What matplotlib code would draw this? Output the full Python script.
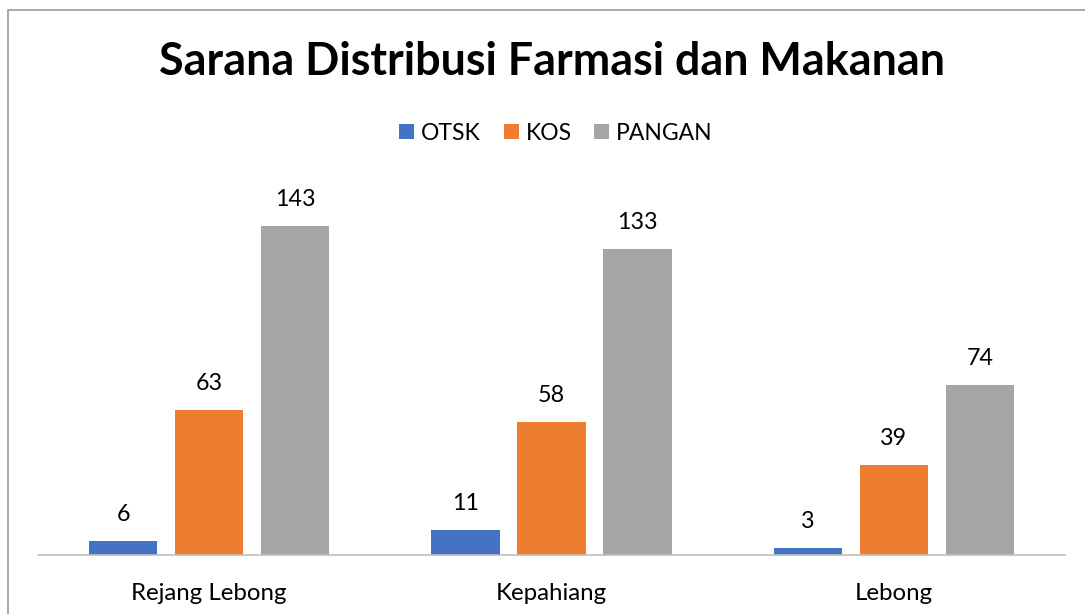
import numpy as np
import matplotlib.pyplot as plt
from matplotlib.patches import Rectangle

plt.rcParams['font.family'] = ['Lato', 'DejaVu Sans']

categories = ['Rejang Lebong', 'Kepahiang', 'Lebong']
series = ['OTSK', 'KOS', 'PANGAN']
otsk = [6, 11, 3]
kos = [63, 58, 39]
pangan = [143, 133, 74]
colors = ['#4472C4', '#ED7D31', '#A5A5A5']

W, H = 1085, 614
fig = plt.figure(figsize=(W / 100, H / 100), dpi=100)

# outer chart border (cropped on right/bottom in the original)
fig.add_artist(Rectangle((8 / W, -0.01), 1.1, 1 - 10 / H + 0.01, transform=fig.transFigure,
                         fill=False, edgecolor='#9a9a9a', linewidth=1.2))

ax = fig.add_axes([38 / W, 59 / H, 1027 / W, 368 / H])

x = np.arange(len(categories))
width = 0.2
gap = 0.051
offsets = [-(width + gap), 0, width + gap]

for vals, name, col, off in zip([otsk, kos, pangan], series, colors, offsets):
    bars = ax.bar(x + off, vals, width, color=col, label=name, zorder=2)
    for b, v in zip(bars, vals):
        ax.text(b.get_x() + b.get_width() / 2, v + 7, str(v), ha='center', va='bottom',
                fontsize=16.8, color='#000000')

ax.set_xlim(-0.5, 2.5)
ax.set_ylim(0, 160)
ax.set_yticks([])
ax.set_xticks(x)
ax.set_xticklabels(categories, fontsize=17.3)
ax.tick_params(axis='x', length=0, pad=20)
for s in ['top', 'right', 'left']:
    ax.spines[s].set_visible(False)
ax.spines['bottom'].set_color('#bfbfbf')
ax.spines['bottom'].set_linewidth(1.2)

fig.text(552 / W, 1 - 62 / H, 'Sarana Distribusi Farmasi dan Makanan', ha='center', va='center',
         fontsize=32.3, fontweight='bold')

fig.legend(loc='center', bbox_to_anchor=(556 / W, 1 - 133 / H), ncol=3, frameon=False,
           fontsize=16.5, handlelength=0.65, handleheight=0.65, handletextpad=0.3, columnspacing=1.0)

fig.savefig('out.png', dpi=100)
